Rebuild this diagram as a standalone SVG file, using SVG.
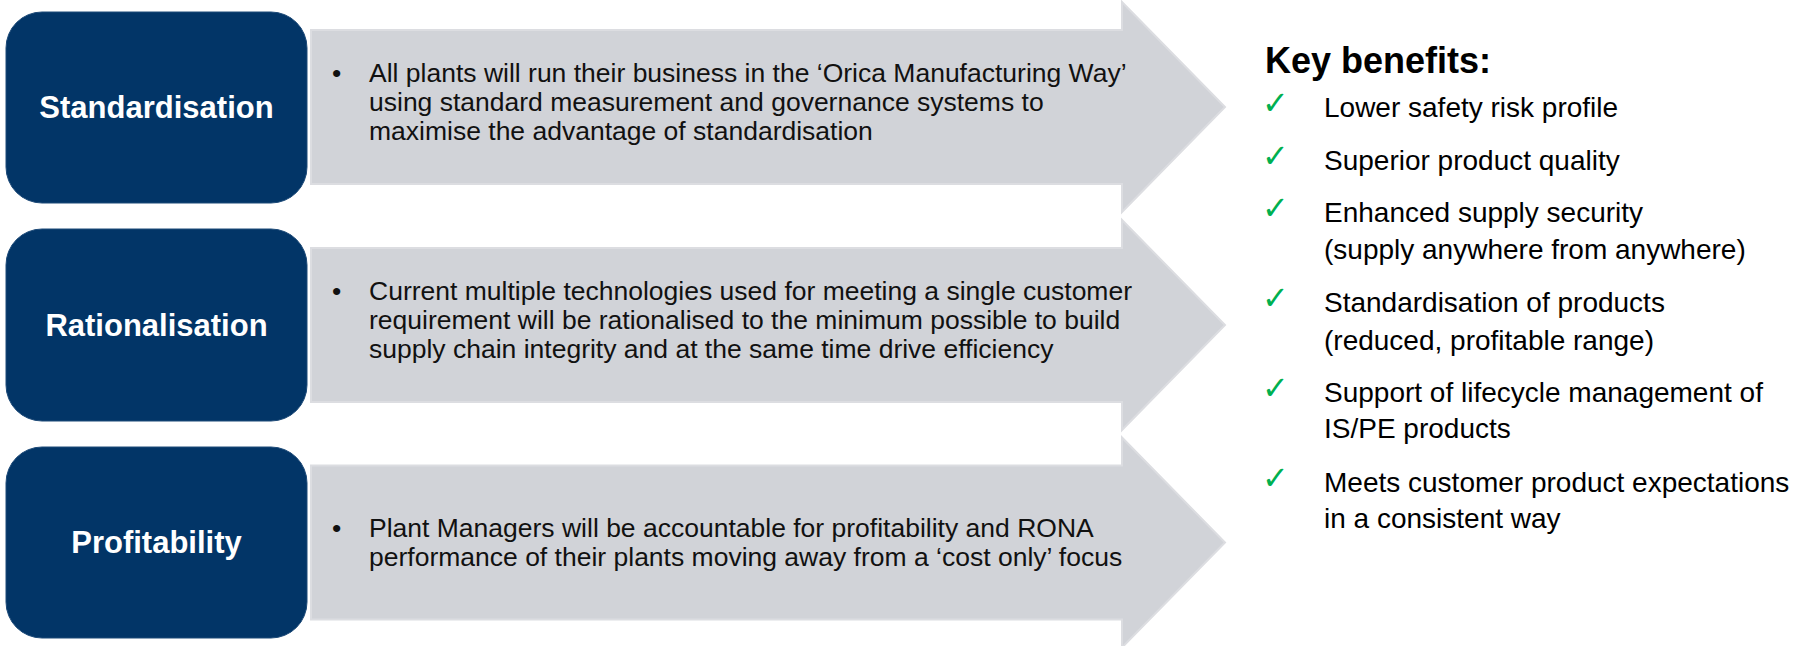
<svg xmlns="http://www.w3.org/2000/svg" width="1808" height="646" viewBox="0 0 1808 646">
  <defs>
    <style>
      .pillar { fill: #023567; stroke: #1d4a78; stroke-width: 1; }
      .pillar-label { font-family: "Liberation Sans", Arial, sans-serif; font-weight: bold; font-size: 31px; fill: #ffffff; text-anchor: middle; }
      .arrow { fill: #d1d3d8; stroke: #dcdde1; stroke-width: 2; stroke-linejoin: miter; }
      .body { font-family: "Liberation Sans", Arial, sans-serif; font-size: 26.5px; fill: #111111; }
      .title { font-family: "Liberation Sans", Arial, sans-serif; font-weight: bold; font-size: 36px; fill: #000000; }
      .item { font-family: "Liberation Sans", Arial, sans-serif; font-size: 28px; fill: #000000; }
      .tick { font-family: "DejaVu Sans", sans-serif; font-size: 32px; fill: #00b050; }
    </style>
    <!-- block arrow centred on y=0: shaft 311..1122, head to 1225 -->
    <path id="blockArrow" d="M311,-77 H1122 V-105 L1225,0 L1122,105 V77 H311 Z"/>
  </defs>

  <rect width="1808" height="646" fill="#ffffff"/>

  <g id="connectors">
    <use href="#blockArrow" class="arrow" transform="translate(0,107)"/>
    <use href="#blockArrow" class="arrow" transform="translate(0,325)"/>
    <use href="#blockArrow" class="arrow" transform="translate(0,542.5)"/>
  </g>

  <g id="standardisation">
    <rect class="pillar" x="6" y="12" width="301" height="191" rx="36" ry="36"/>
    <text class="pillar-label" x="156.5" y="118">Standardisation</text>
    <text class="body"><tspan x="332" y="82">•</tspan><tspan x="369" y="82">All plants will run their business in the ‘Orica Manufacturing Way’</tspan><tspan x="369" y="111">using standard measurement and governance systems to</tspan><tspan x="369" y="140">maximise the advantage of standardisation</tspan></text>
  </g>

  <g id="rationalisation">
    <rect class="pillar" x="6" y="229" width="301" height="192" rx="36" ry="36"/>
    <text class="pillar-label" x="156.5" y="336">Rationalisation</text>
    <text class="body"><tspan x="332" y="300">•</tspan><tspan x="369" y="300">Current multiple technologies used for meeting a single customer</tspan><tspan x="369" y="329">requirement will be rationalised to the minimum possible to build</tspan><tspan x="369" y="358">supply chain integrity and at the same time drive efficiency</tspan></text>
  </g>

  <g id="profitability">
    <rect class="pillar" x="6" y="447" width="301" height="191" rx="36" ry="36"/>
    <text class="pillar-label" x="156.5" y="553">Profitability</text>
    <text class="body"><tspan x="332" y="537">•</tspan><tspan x="369" y="537">Plant Managers will be accountable for profitability and RONA</tspan><tspan x="369" y="566">performance of their plants moving away from a ‘cost only’ focus</tspan></text>
  </g>

  <g id="key-benefits">
    <text class="title" x="1265" y="73">Key benefits:</text>
    <text class="tick" x="1262" y="114">✓</text>
    <text class="item" x="1324" y="117">Lower safety risk profile</text>
    <text class="tick" x="1262" y="167">✓</text>
    <text class="item" x="1324" y="170">Superior product quality</text>
    <text class="tick" x="1262" y="219">✓</text>
    <text class="item"><tspan x="1324" y="222">Enhanced supply security</tspan><tspan x="1324" y="259">(supply anywhere from anywhere)</tspan></text>
    <text class="tick" x="1262" y="309">✓</text>
    <text class="item"><tspan x="1324" y="312">Standardisation of products</tspan><tspan x="1324" y="350">(reduced, profitable range)</tspan></text>
    <text class="tick" x="1262" y="399">✓</text>
    <text class="item"><tspan x="1324" y="402">Support of lifecycle management of</tspan><tspan x="1324" y="438">IS/PE products</tspan></text>
    <text class="tick" x="1262" y="489">✓</text>
    <text class="item"><tspan x="1324" y="492">Meets customer product expectations</tspan><tspan x="1324" y="528">in a consistent way</tspan></text>
  </g>
</svg>
